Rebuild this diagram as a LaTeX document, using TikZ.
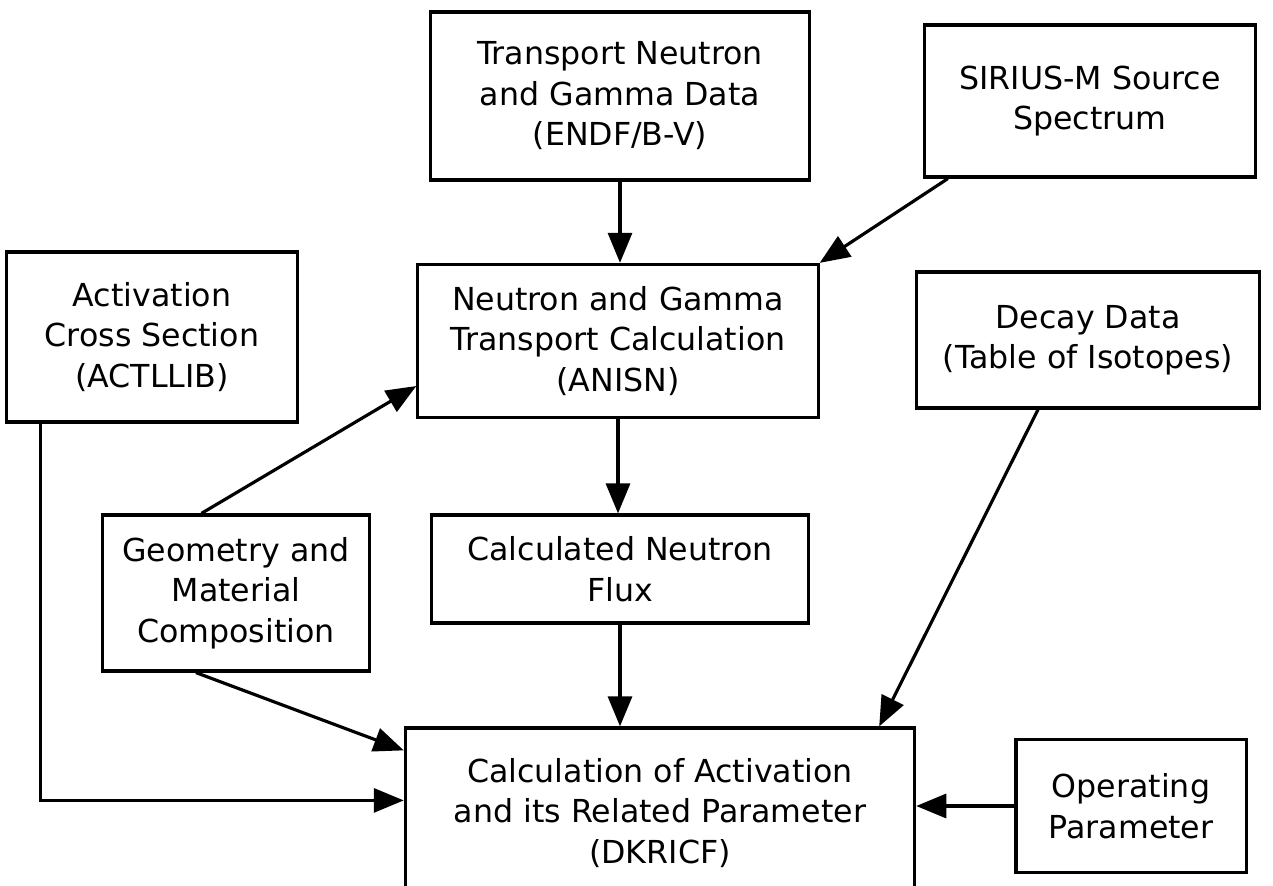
\documentclass[tikz,border=0pt]{standalone}
\usepackage{fontspec}
\setmainfont{DejaVu Sans}
\usetikzlibrary{arrows.meta}
\begin{document}
\begin{tikzpicture}[x=0.01cm,y=-0.01cm,
        box/.style={draw,line width=0.9pt,rectangle,align=center,inner sep=0pt,font=\fontsize{9}{11.5}\selectfont},
        arr/.style={line width=0.9pt,-{Triangle[length=0.3cm,width=0.24cm]}}]
        \path[use as bounding box,clip] (0,0) rectangle (1273,886);
        \node[box,minimum width=3.78cm,minimum height=1.68cm] at (620,96) (trans) {Transport Neutron\\and Gamma Data\\(ENDF/B-V)};
        \node[box,minimum width=3.31cm,minimum height=1.52cm] at (1090,101) (sirius) {SIRIUS-M Source\\Spectrum};
        \node[box,minimum width=4cm,minimum height=1.53cm] at (618,341) (anisn) {Neutron and Gamma\\Transport Calculation\\(ANISN)};
        \node[box,minimum width=2.91cm,minimum height=1.7cm] at (152,337) (act) {Activation\\Cross Section\\(ACTLLIB)};
        \node[box,minimum width=3.43cm,minimum height=1.36cm] at (1088,340) (decay) {Decay Data\\(Table of Isotopes)};
        \node[box,minimum width=2.67cm,minimum height=1.56cm] at (236,593) (geo) {Geometry and\\Material\\Composition};
        \node[box,minimum width=3.76cm,minimum height=1.08cm] at (620,569) (flux) {Calculated Neutron\\Flux};
        \node[box,minimum width=5.09cm,minimum height=1.7cm] at (660,813) (calc) {Calculation of Activation\\and its Related Parameter\\(DKRICF)};
        \node[box,minimum width=2.3cm,minimum height=1.33cm] at (1131,806) (oper) {Operating\\Parameter};
        \draw[arr] (trans.south) -- (trans.south |- anisn.north);
        \draw[arr] ([xshift=0.25cm]sirius.south west) -- (anisn.north east);
        \draw[arr] ([xshift=-0.345cm]geo.north) -- ([yshift=-0.45cm]anisn.west);
        \draw[arr] (anisn.south) -- (anisn.south |- flux.north);
        \draw[arr] (flux.south) -- (flux.south |- calc.north);
        \draw[arr] ([xshift=-0.4cm]geo.south) -- ([yshift=-0.24cm]calc.north west);
        \draw[arr] ([xshift=0.36cm]act.south west) |- ([yshift=-0.74cm]calc.north west);
        \draw[arr] ([xshift=-0.5cm]decay.south) -- ([xshift=-0.37cm]calc.north east);
        \draw[arr] (oper.west) -- (oper.west -| calc.east);
    \end{tikzpicture}
\end{document}
